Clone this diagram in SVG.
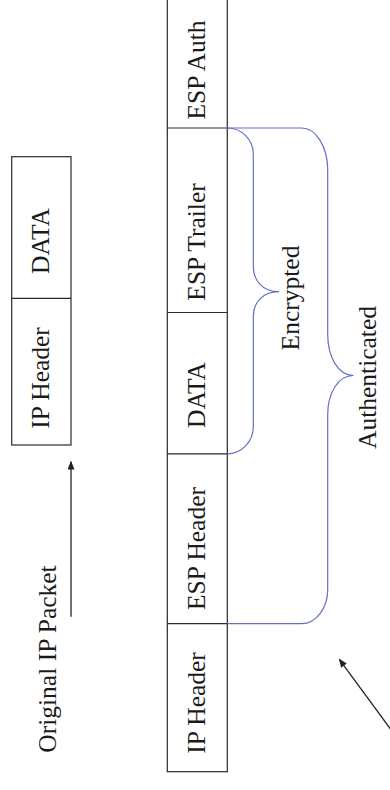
<svg xmlns="http://www.w3.org/2000/svg" width="390" height="790" viewBox="0 0 390 790">
  <style>
    .box { fill: #ffffff; stroke: #2a2a2a; stroke-width: 1.2; }
    .div { stroke: #2a2a2a; stroke-width: 1.2; }
    .lbl { font-family: "Liberation Serif", "Times New Roman", serif; font-size: 25.5px; fill: #1a1a1a; text-anchor: middle; }
    .brace { fill: none; stroke: #6670c4; stroke-width: 1.2; }
    .arrow { fill: none; stroke: #222; stroke-width: 1.3; }
  </style>
  <defs>
    <marker id="head" viewBox="0 0 10 8" refX="9" refY="4" markerWidth="9" markerHeight="7" markerUnits="userSpaceOnUse" orient="auto">
      <path d="M0,0 L10,4 L0,8 Z" fill="#222"/>
    </marker>
  </defs>

  <!-- original packet -->
  <g id="orig-packet">
    <rect class="box" x="11.7" y="156.7" width="59.3" height="288.3"/>
    <line class="div" x1="11.7" y1="298.3" x2="71" y2="298.3"/>
    <text class="lbl" transform="translate(49,241) rotate(-90)">DATA</text>
    <text class="lbl" transform="translate(49,378) rotate(-90)">IP Header</text>
  </g>
  <g id="orig-label">
    <text class="lbl" transform="translate(56,659) rotate(-90)">Original IP Packet</text>
  </g>

  <!-- ESP packet -->
  <g id="esp-packet">
    <rect class="box" x="167.3" y="-10" width="60" height="781.7"/>
    <line class="div" x1="167.3" y1="128" x2="227.3" y2="128"/>
    <line class="div" x1="167.3" y1="312.5" x2="227.3" y2="312.5"/>
    <line class="div" x1="167.3" y1="453.8" x2="227.3" y2="453.8" stroke-width="2"/>
    <line class="div" x1="167.3" y1="623.6" x2="227.3" y2="623.6"/>
    <text class="lbl" transform="translate(205,70) rotate(-90)">ESP Auth</text>
    <text class="lbl" transform="translate(205,242) rotate(-90)">ESP Trailer</text>
    <text class="lbl" transform="translate(205,395) rotate(-90)">DATA</text>
    <text class="lbl" transform="translate(205,548.5) rotate(-90)">ESP Header</text>
    <text class="lbl" transform="translate(205,703) rotate(-90)">IP Header</text>
  </g>

  <!-- braces -->
  <g id="encrypted">
    <path class="brace" d="M227.3,128 C241.5,128 253.3,139.5 253.3,154 L253.3,266 C253.3,280 262,291.7 279,291.7 C262,291.7 253.3,303 253.3,317 L253.3,427 C253.3,441.5 241.5,453.8 227.3,453.8"/>
    <text class="lbl" transform="translate(299,298) rotate(-90)">Encrypted</text>
  </g>
  <g id="authenticated">
    <path class="brace" d="M227.3,128 L301.7,128 C316,128 327.7,147 327.7,170 L327.7,334 C327.7,357 338,375.5 353.5,375.5 C338,375.5 327.7,393 327.7,415 L327.7,590 C327.7,608 316,623.6 301.7,623.6 L227.3,623.6"/>
    <text class="lbl" transform="translate(375.5,377.5) rotate(-90)">Authenticated</text>
  </g>

  <!-- connectors -->
  <g id="connectors">
    <line class="arrow" x1="71" y1="616.7" x2="71" y2="461.7" marker-end="url(#head)"/>
    <line class="arrow" x1="393" y1="732.5" x2="339.3" y2="659.3" marker-end="url(#head)"/>
  </g>
</svg>
